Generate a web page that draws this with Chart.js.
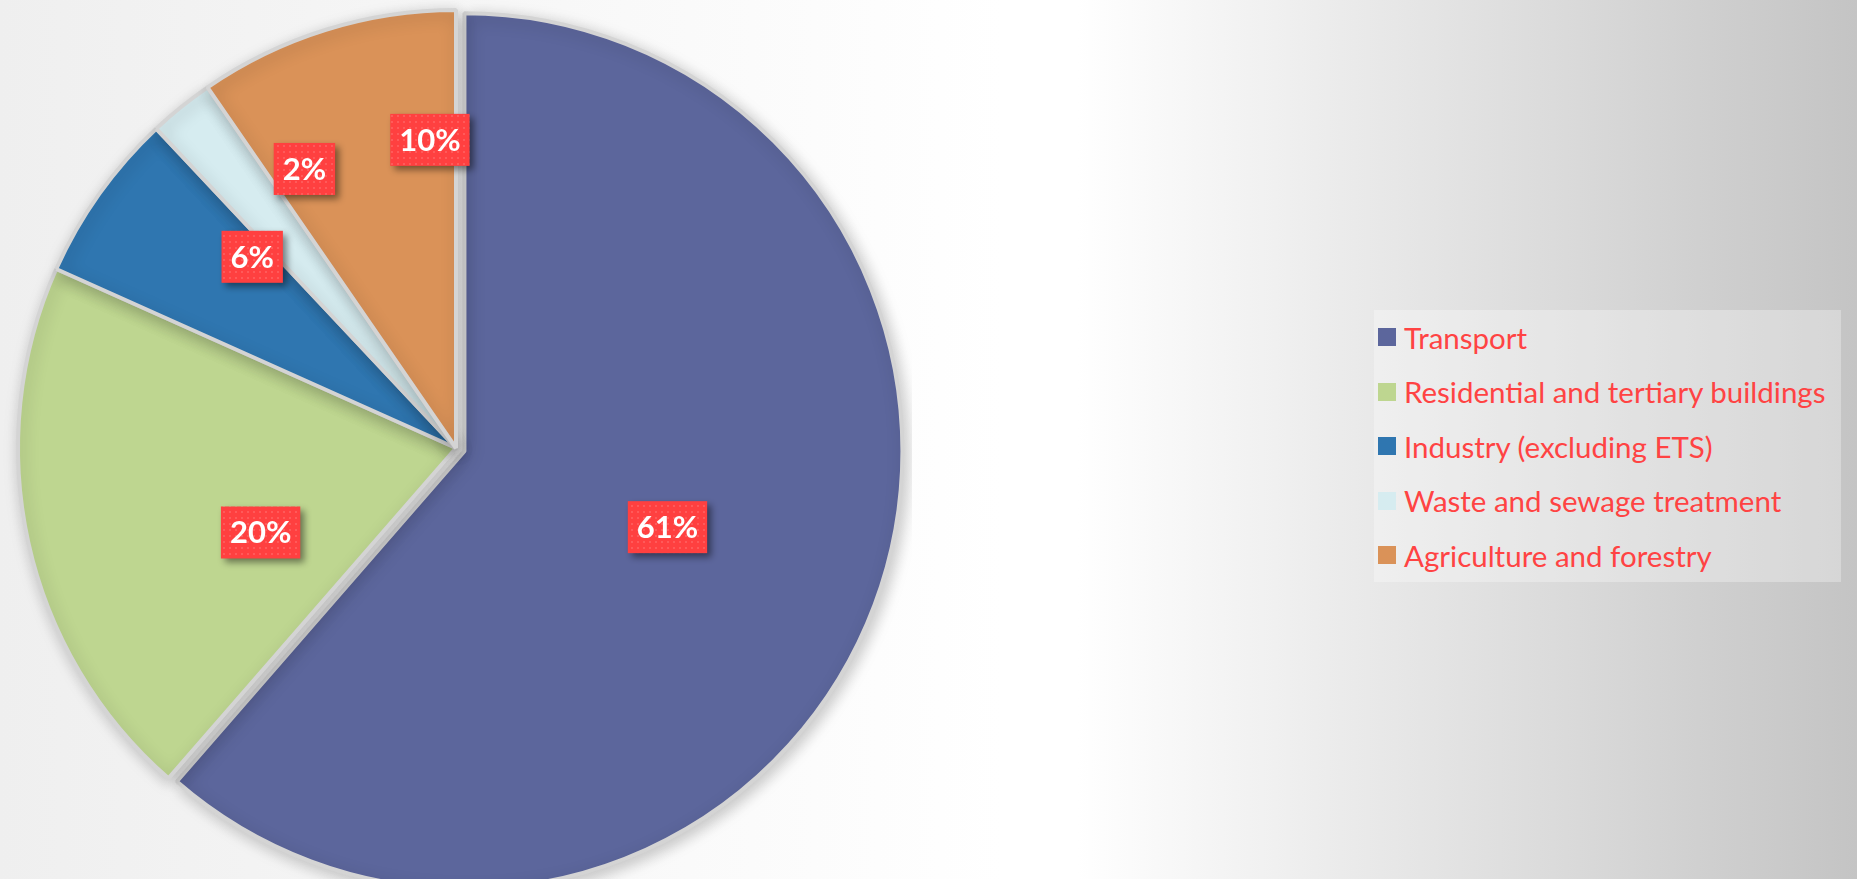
<!DOCTYPE html>
<html>
<head>
<meta charset="utf-8">
<title>Emissions by sector</title>
<script src="https://cdn.jsdelivr.net/npm/chart.js@4.4.1/dist/chart.umd.min.js"></script>
<style>
    html, body {
        margin: 0;
        padding: 0;
        width: 1857px;
        height: 879px;
        overflow: hidden;
    }
    body {
        position: relative;
        background: linear-gradient(to right, #efefef 0%, #ffffff 54%, #ffffff 58%, #c4c4c4 100%);
        font-family: Lato, "Open Sans", sans-serif;
    }
    .chart-wrapper {
        position: absolute;
        left: 0;
        top: 0;
        width: 912px;
        height: 896px;
    }
    .legend-box {
        position: absolute;
        left: 1374px;
        top: 310px;
        width: 467px;
        height: 272px;
        background: rgba(255, 255, 255, 0.3);
        box-sizing: border-box;
    }
    .legend-item {
        height: 54.5px;
        display: flex;
        align-items: center;
        padding-left: 4px;
    }
    .legend-swatch {
        width: 18px;
        height: 18px;
        margin-right: 8px;
        flex: none;
    }
    .legend-text {
        color: #ff4343;
        font-size: 29.5px;
        white-space: nowrap;
    }
</style>
</head>
<body>
<div class="chart-wrapper"><canvas id="sector-chart"></canvas></div>
<div class="legend-box" id="sector-legend"></div>

<script>
// Données du graphique
const categories = [
    'Transport',
    'Residential and tertiary buildings',
    'Industry (excluding ETS)',
    'Waste and sewage treatment',
    'Agriculture and forestry'
];
const shares = [61.4, 20.3, 6.3, 2.4, 9.6];

// Style
const sliceColors = ['#5c669c', '#bed690', '#2f76b0', '#d6ecf0', '#da9258'];
const explode = [9, 0, 0, 0, 0];
// position des étiquettes : fraction de l'arc, fraction du rayon
const labelAlong = [0.5, 0.35, 0.84, 1.7, 0.86];
const labelRadius = [0.495, 0.486, 0.638, 0.725, 0.706];

// Motif pointillé des étiquettes rouges
function makeDotPattern(ctx) {
    const c = document.createElement('canvas');
    c.width = 6;
    c.height = 6;
    const p = c.getContext('2d');
    p.fillStyle = '#ff4040';
    p.fillRect(0, 0, 6, 6);
    p.fillStyle = '#ff5a5a';
    p.fillRect(1, 1, 2, 2);
    return ctx.createPattern(c, 'repeat');
}

/**
 * Dessine les parts une par une avec décalage et ombre
 */
const explodedSlices = {
    id: 'explodedSlices',
    beforeDatasetDraw(chart, args) {
        const ctx = chart.ctx;
        args.meta.data.forEach((arc, i) => {
            const mid = (arc.startAngle + arc.endAngle) / 2;
            ctx.save();
            ctx.translate(Math.cos(mid) * explode[i], Math.sin(mid) * explode[i]);
            ctx.shadowColor = 'rgba(0, 0, 0, 0.22)';
            ctx.shadowBlur = 16;
            ctx.shadowOffsetX = 3;
            ctx.shadowOffsetY = 4;
            arc.draw(ctx);
            ctx.restore();
        });
        return false;
    }
};

/**
 * Étiquettes de pourcentage dans des boîtes rouges
 */
const percentLabels = {
    id: 'percentLabels',
    afterDatasetsDraw(chart) {
        const ctx = chart.ctx;
        const meta = chart.getDatasetMeta(0);
        const data = chart.data.datasets[0].data;
        const total = data.reduce((a, b) => a + b, 0);
        const pattern = makeDotPattern(ctx);

        ctx.save();
        ctx.font = 'bold 31px Lato, "Open Sans", sans-serif';
        ctx.textAlign = 'center';
        ctx.textBaseline = 'middle';

        meta.data.forEach((arc, i) => {
            const mid = (arc.startAngle + arc.endAngle) / 2;
            const angle = arc.startAngle + labelAlong[i] * (arc.endAngle - arc.startAngle);
            const r = labelRadius[i] * arc.outerRadius;
            const x = arc.x + Math.cos(mid) * explode[i] + Math.cos(angle) * r;
            const y = arc.y + Math.sin(mid) * explode[i] + Math.sin(angle) * r;

            const text = Math.round(data[i] / total * 100) + '%';
            const w = ctx.measureText(text).width + 18;
            const h = 52;

            ctx.save();
            ctx.shadowColor = 'rgba(0, 0, 0, 0.45)';
            ctx.shadowBlur = 7;
            ctx.shadowOffsetX = 4;
            ctx.shadowOffsetY = 4;
            ctx.fillStyle = pattern;
            ctx.fillRect(x - w / 2, y - h / 2, w, h);
            ctx.restore();

            ctx.fillStyle = '#ffffff';
            ctx.fillText(text, x, y + 1);
        });
        ctx.restore();
    }
};

/**
 * Légende HTML générée depuis le graphique
 */
const htmlLegend = {
    id: 'htmlLegend',
    afterUpdate(chart) {
        const box = document.getElementById('sector-legend');
        box.innerHTML = '';
        const items = chart.options.plugins.legend.labels.generateLabels(chart);
        items.forEach(item => {
            const row = document.createElement('div');
            row.className = 'legend-item';
            const sw = document.createElement('span');
            sw.className = 'legend-swatch';
            sw.style.background = item.fillStyle;
            const txt = document.createElement('span');
            txt.className = 'legend-text';
            txt.textContent = item.text;
            row.appendChild(sw);
            row.appendChild(txt);
            box.appendChild(row);
        });
    }
};

new Chart(document.getElementById('sector-chart'), {
    type: 'pie',
    data: {
        labels: categories,
        datasets: [{
            data: shares,
            backgroundColor: sliceColors,
            borderColor: '#d4d4d4',
            borderWidth: 4,
            hoverOffset: 0
        }]
    },
    options: {
        responsive: true,
        maintainAspectRatio: false,
        animation: false,
        layout: {
            padding: { left: 16, right: 16, top: 8, bottom: 8 }
        },
        plugins: {
            legend: { display: false },
            tooltip: { enabled: false }
        }
    },
    plugins: [explodedSlices, percentLabels, htmlLegend]
});
</script>
</body>
</html>
